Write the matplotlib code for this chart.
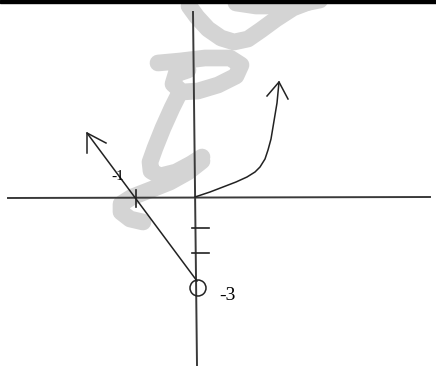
import numpy as np
import matplotlib.pyplot as plt

# everything is in pixel coordinates of the scanned sketch (y grows downward)
x_axis_x = [8, 430]
x_axis_y = [198, 197]
y_axis_x = [193, 197]
y_axis_y = [12, 365]

x_tick_x = [136, 136]
x_tick_y = [190, 207]
y_ticks_y = [228, 253]
y_tick_x = [192, 209]

# left branch: straight line from the open circle up to the arrow
line_x = [197, 87]
line_y = [281, 133]
left_head_x = [87, 87, 106]
left_head_y = [153, 133, 143]

# right branch: growing curve from the origin
curve_x = [195, 210, 223, 236, 247, 255, 260, 265, 268, 271, 273, 275, 277, 279]
curve_y = [197, 192, 187, 182, 177, 172, 167, 159, 150, 139, 127, 115, 103, 82]
right_head_x = [267, 279, 288]
right_head_y = [96, 82, 99]

circle_xy = (198, 288)
circle_r = 8

labels = [("-1", 111, 176, 11), ("-3", 219, 296, 14)]

# watermark strokes (light grey)
wm_strokes = [
    ([189, 197, 208, 221, 234, 248, 261, 276, 293, 314],
     [6, 17, 29, 38, 42, 39, 30, 19, 8, 0]),
    ([236, 256, 278, 300, 320],
     [3, 6, 6, 4, 0]),
    ([158, 180, 205, 230, 241, 236, 218, 198, 182, 173, 176, 188],
     [63, 61, 58, 58, 65, 76, 85, 91, 92, 84, 74, 70]),
    ([180, 172, 163, 155, 150, 151, 160, 176, 191, 202],
     [92, 108, 128, 148, 162, 171, 176, 172, 164, 157]),
    ([202, 188, 170, 150, 132, 121, 121, 130, 143],
     [161, 172, 182, 190, 197, 204, 212, 219, 222]),
]

fig = plt.figure(figsize=(4.36, 3.67), dpi=100)
ax = fig.add_axes([0, 0, 1, 1])
ax.set_xlim(0, 436)
ax.set_ylim(367, 0)
ax.axis("off")

for sx, sy in wm_strokes:
    ax.plot(sx, sy, color="#d4d4d4", linewidth=12, solid_capstyle="round",
            solid_joinstyle="round", zorder=1)

# top border
ax.axhspan(0, 3, color="black", zorder=5)

ax.plot(x_axis_x, x_axis_y, color="#3a3a3a", linewidth=1.4, zorder=3)
ax.plot(y_axis_x, y_axis_y, color="#3a3a3a", linewidth=1.4, zorder=3)
ax.plot(x_tick_x, x_tick_y, color="#222222", linewidth=1.2, zorder=3)
for ty in y_ticks_y:
    ax.plot(y_tick_x, [ty, ty], color="#222222", linewidth=1.2, zorder=3)

ax.plot(line_x, line_y, color="#222222", linewidth=1.1, zorder=4)
ax.plot(left_head_x, left_head_y, color="#222222", linewidth=1.1, zorder=4)
ax.plot(curve_x, curve_y, color="#222222", linewidth=1.1, zorder=4)
ax.plot(right_head_x, right_head_y, color="#222222", linewidth=1.1, zorder=4)

ax.add_patch(plt.Circle(circle_xy, circle_r, fill=False, edgecolor="#222222",
                        linewidth=1.1, zorder=4))

for txt, tx, ty, fs in labels:
    ax.text(tx, ty, txt, fontsize=fs, family="Liberation Serif",
            ha="left", va="center", zorder=6)

fig.savefig("out.png", dpi=100)
